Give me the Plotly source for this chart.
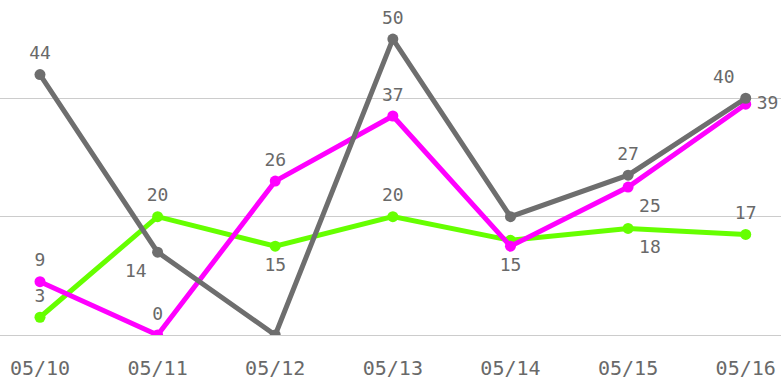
import plotly.graph_objects as go

dates = ["05/10", "05/11", "05/12", "05/13", "05/14", "05/15", "05/16"]

gray_vals = [44, 14, 0, 50, 20, 27, 40]
magenta_vals = [9, 0, 26, 37, 15, 25, 39]
green_vals = [3, 20, 15, 20, 16, 18, 17]

# label text per point (blank where labels would collide)
gray_text = ["44", "14", "", "50", "", "27", "40"]
magenta_text = ["9", "0", "26", "37", "15", "25", "39"]
green_text = ["3", "20", "15", "20", "", "18", "17"]

gray_pos = ["top center", "bottom left", "top center", "top center", "top center", "top center", "top left"]
magenta_pos = ["top center", "top center", "top center", "top center", "bottom center", "bottom right", "middle right"]
green_pos = ["top center", "top center", "bottom center", "top center", "top center", "bottom right", "top center"]

font_family = "DejaVu Sans Mono"
text_color = "#696969"

fig = go.Figure()

series = [
    (green_vals, green_text, green_pos, "#66ff00"),
    (magenta_vals, magenta_text, magenta_pos, "#ff00ff"),
    (gray_vals, gray_text, gray_pos, "#6e6e6e"),
]

for vals, txt, pos, color in series:
    fig.add_trace(go.Scatter(
        x=dates,
        y=vals,
        mode="lines+markers",
        line=dict(color=color, width=5),
        marker=dict(color=color, size=11),
        showlegend=False,
        hoverinfo="skip",
    ))

# value labels, offset a little further from the points
for vals, txt, pos, color in series:
    fig.add_trace(go.Scatter(
        x=dates,
        y=vals,
        mode="markers+text",
        marker=dict(color=color, size=16, opacity=0),
        text=txt,
        textposition=pos,
        textfont=dict(family=font_family, size=18, color=text_color),
        showlegend=False,
    ))

fig.update_layout(
    width=781,
    height=383,
    margin=dict(l=0, r=0, t=0, b=48),
    paper_bgcolor="white",
    plot_bgcolor="white",
    xaxis=dict(
        type="category",
        range=[-0.34, 6.3],
        showgrid=False,
        zeroline=False,
        showline=False,
        ticks="",
        ticklabelstandoff=19,
        tickfont=dict(family=font_family, size=20, color=text_color),
    ),
    yaxis=dict(
        range=[0, 56.6],
        tickvals=[0, 20, 40],
        showticklabels=False,
        showgrid=True,
        gridcolor="#cccccc",
        gridwidth=1,
        zeroline=True,
        zerolinecolor="#cccccc",
        zerolinewidth=1,
        showline=False,
    ),
)

fig.write_html("out.html")
